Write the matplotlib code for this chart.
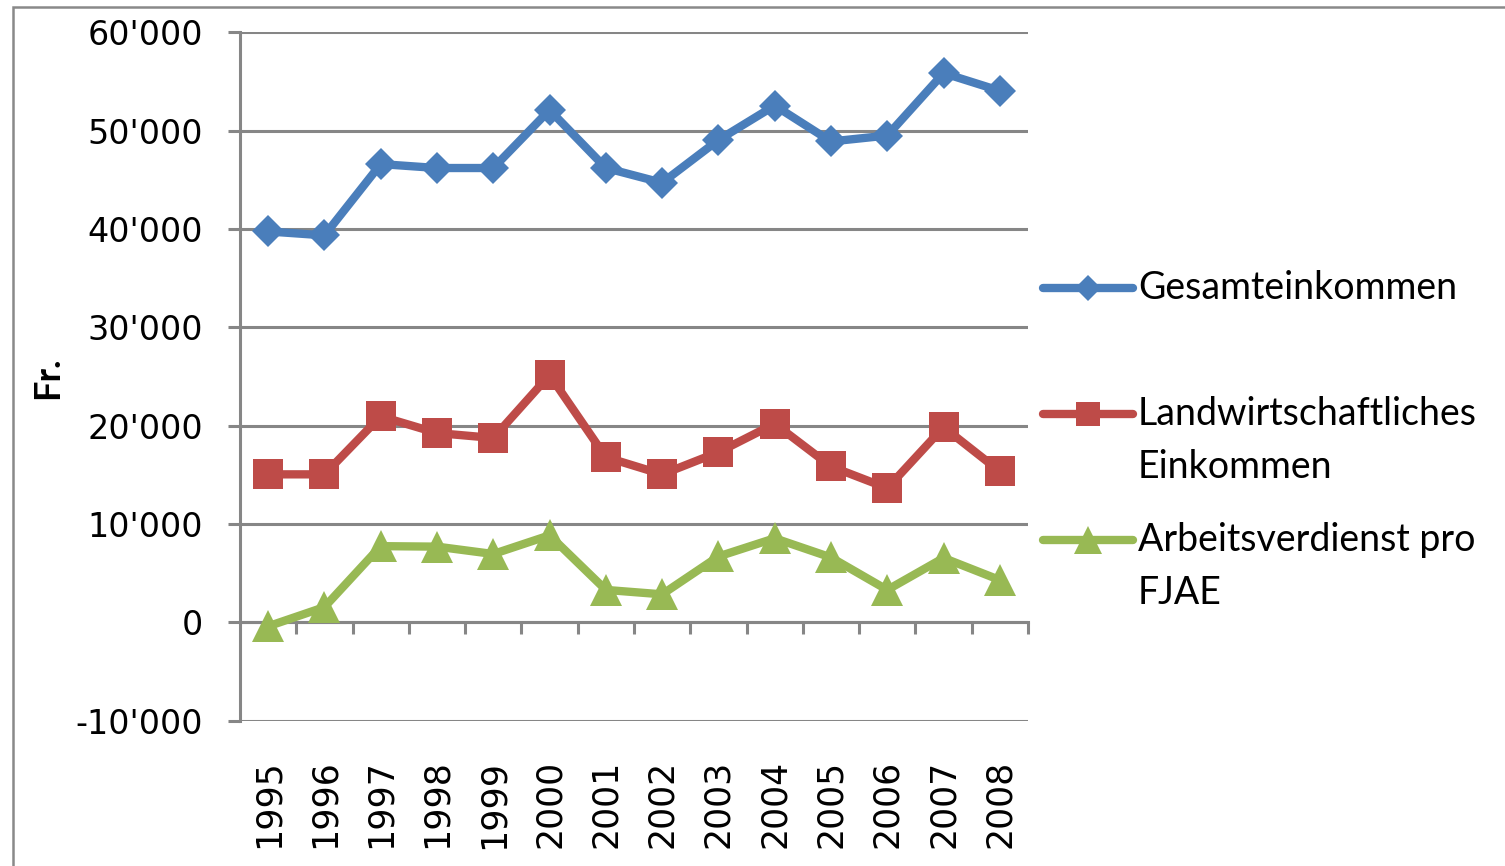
import matplotlib
matplotlib.use("Agg")
import matplotlib.pyplot as plt
from matplotlib.lines import Line2D
from matplotlib.patches import Rectangle
from matplotlib.ticker import FuncFormatter, FixedLocator
import numpy as np

years = ["1995", "1996", "1997", "1998", "1999", "2000", "2001",
         "2002", "2003", "2004", "2005", "2006", "2007", "2008"]
gesamt = [39750, 39350, 46600, 46200, 46200, 52100, 46200,
          44700, 49050, 52550, 48900, 49500, 55850, 54050]
landw = [15050, 15050, 20950, 19250, 18750, 25150, 16800,
         15050, 17300, 20200, 15850, 13650, 19850, 15350]
arbeit = [-400, 1550, 7750, 7700, 6950, 8850, 3300,
          2850, 6700, 8550, 6600, 3300, 6550, 4300]

series_names = ["Gesamteinkommen", "Landwirtschaftliches\nEinkommen",
                "Arbeitsverdienst pro\nFJAE"]
colors = ["#4A7EBB", "#BE4B48", "#98B954"]
markers = ["D", "s", "^"]
msizes = [16, 21, 23]
grid_c = "#868686"

W, H = 1505, 866
fig = plt.figure(figsize=(W / 100, H / 100), dpi=100)
ax = fig.add_axes([240 / W, 1 - 720.7 / H, 788 / W, (720.7 - 32.3) / H])

x = np.arange(len(years))
for vals, c, m, ms in zip([gesamt, landw, arbeit], colors, markers, msizes):
    ax.plot(x, vals, color=c, lw=6, marker=m, ms=ms, mec=c, mew=0,
            solid_joinstyle="round", clip_on=False, zorder=3)

ax.set_xlim(-0.5, len(years) - 0.5)
ax.set_ylim(-10000, 60000)
ax.set_yticks(np.arange(-10000, 60001, 10000))
ax.yaxis.set_major_formatter(FuncFormatter(
    lambda v, p: f"{int(v):,}".replace(",", "'")))
ax.grid(axis="y", color=grid_c, lw=2.2)
ax.set_axisbelow(True)

# category labels at bottom, boundary ticks on the zero line
ax.set_xticks(x)
ax.set_xticklabels(years)
ax.xaxis.set_minor_locator(FixedLocator(np.arange(0.5, len(years), 1)))
ax.tick_params(axis="x", which="major", length=0, pad=28, labelsize=25,
               labelrotation=90)
ax.tick_params(axis="x", which="minor", bottom=False, top=True,
               direction="in", length=8.5, width=2.2, color=grid_c)
ax.spines["top"].set_position(("data", 0))
ax.spines["top"].set_color(grid_c)
ax.spines["top"].set_linewidth(2.2)
ax.spines["bottom"].set_visible(False)
ax.spines["right"].set_visible(False)
ax.spines["left"].set_color(grid_c)
ax.spines["left"].set_linewidth(2.2)
ax.tick_params(axis="y", length=8.5, width=2.2, color=grid_c,
               pad=18, labelsize=24)

ax.set_ylabel("Fr.", fontsize=26, fontweight="bold", family="Lato",
              va="center", ha="center")
ax.yaxis.set_label_coords(48 / W, 1 - 378 / H, transform=fig.transFigure)

# legend drawn by hand to keep handle on the first text line
leg_y = [288, 414, 540]
for name, c, m, ms, ly in zip(series_names, colors, markers, msizes, leg_y):
    yf = 1 - ly / H
    fig.add_artist(Line2D([1043 / W, 1133 / W], [yf, yf], color=c, lw=6,
                          solid_capstyle="round"))
    fig.add_artist(Line2D([1088 / W], [yf], color=c, marker=m, ms=ms * 0.85,
                          mew=0, lw=0))
    fig.text(1138 / W, 1 - (ly - 18) / H, name, family="Lato", fontsize=27,
             va="top", ha="left", linespacing=1.58)

fig.add_artist(Rectangle((13 / W, -0.1), 1.2, 1 - 7 / H + 0.1,
                         transform=fig.transFigure, fill=False,
                         ec="#898989", lw=1.8))

fig.savefig("out.png", dpi=100)
